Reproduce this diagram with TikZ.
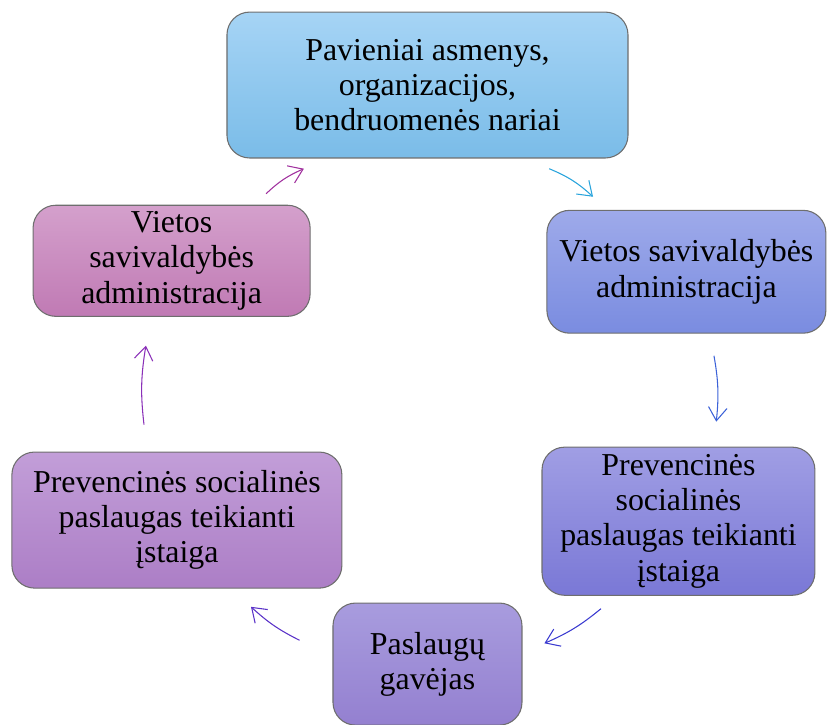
\documentclass[tikz,border=0pt]{standalone}
\usepackage{fontspec}
\setmainfont{Liberation Serif}
\newfontfamily\stagefont{Liberation Serif}
\usepackage{tikz}
\usetikzlibrary{arrows.meta}

\definecolor{edgegray}{RGB}{110,110,110}
\definecolor{arrA}{RGB}{42,164,220}
\definecolor{arrB}{RGB}{60,98,216}
\definecolor{arrC}{RGB}{58,58,208}
\definecolor{arrD}{RGB}{90,50,200}
\definecolor{arrE}{RGB}{138,48,184}
\definecolor{arrF}{RGB}{160,48,158}

\begin{document}
\begin{tikzpicture} [align=center,
  stage/.style={rectangle, rounded corners=0.6cm, draw=edgegray, line width=0.8pt,
                inner sep=0pt, font=\stagefont\fontsize{24}{26.5}\selectfont},
  flow/.style={-{Straight Barb[length=10pt,width=14pt]}, line width=0.8pt},
  shade1/.style={top color={rgb,255:red,166;green,212;blue,245}, bottom color={rgb,255:red,122;green,188;blue,232}},
  shade2/.style={top color={rgb,255:red,158;green,170;blue,234}, bottom color={rgb,255:red,122;green,140;blue,224}},
  shade3/.style={top color={rgb,255:red,160;green,158;blue,228}, bottom color={rgb,255:red,122;green,120;blue,214}},
  shade4/.style={top color={rgb,255:red,168;green,156;blue,222}, bottom color={rgb,255:red,148;green,128;blue,208}},
  shade5/.style={top color={rgb,255:red,194;green,158;blue,216}, bottom color={rgb,255:red,172;green,126;blue,198}},
  shade6/.style={top color={rgb,255:red,212;green,160;blue,204}, bottom color={rgb,255:red,192;green,122;blue,180}}]
\clip (0, 0) rectangle (21.88, 19.16);

\path (11.31, 16.91) node[stage, shade1, minimum width=10.61cm, minimum height=3.86cm] (asmenys) {Pavieniai asmenys,\\organizacijos,\\bendruomenės nariai}
      (18.16, 11.97) node[stage, shade2, minimum width=7.38cm, minimum height=3.25cm] (admin1) {Vietos savivaldybės\\administracija}
      (17.95, 5.37) node[stage, shade3, minimum width=7.22cm, minimum height=3.92cm] (istaiga1) {Prevencinės\\socialinės\\paslaugas teikianti\\įstaiga}
      (11.31, 1.59) node[stage, shade4, minimum width=5.00cm, minimum height=3.23cm] (gavejas) {Paslaugų\\gavėjas}
      (4.68, 5.40) node[stage, shade5, minimum width=8.73cm, minimum height=3.60cm] (istaiga2) {Prevencinės socialinės\\paslaugas teikianti\\įstaiga}
      (4.54, 12.26) node[stage, shade6, minimum width=7.33cm, minimum height=2.94cm] (admin2) {Vietos\\savivaldybės\\administracija};

\draw[flow, arrA] ([shift={(3.22,-0.27)}]asmenys.south) to[bend left=10] ([shift={(-2.47,0.345)}]admin1.north);
\draw[flow, arrB] ([shift={(0.73,-0.585)}]admin1.south) to[bend left=8] ([shift={(1.00,0.66)}]istaiga1.north);
\draw[flow, arrC] ([shift={(-2.05,-0.34)}]istaiga1.south) to[bend left=8] ([shift={(0.58,0.55)}]gavejas.east);
\draw[flow, arrD] ([shift={(-0.87,0.63)}]gavejas.west) to[bend left=8] ([shift={(1.96,-0.48)}]istaiga2.south);
\draw[flow, arrE] ([shift={(-0.87,0.71)}]istaiga2.north) to[bend left=8] ([shift={(-0.68,-0.76)}]admin2.south);
\draw[flow, arrF] ([shift={(2.50,0.29)}]admin2.north) to[bend left=10] ([shift={(-3.27,-0.27)}]asmenys.south);
\end{tikzpicture}
\end{document}
